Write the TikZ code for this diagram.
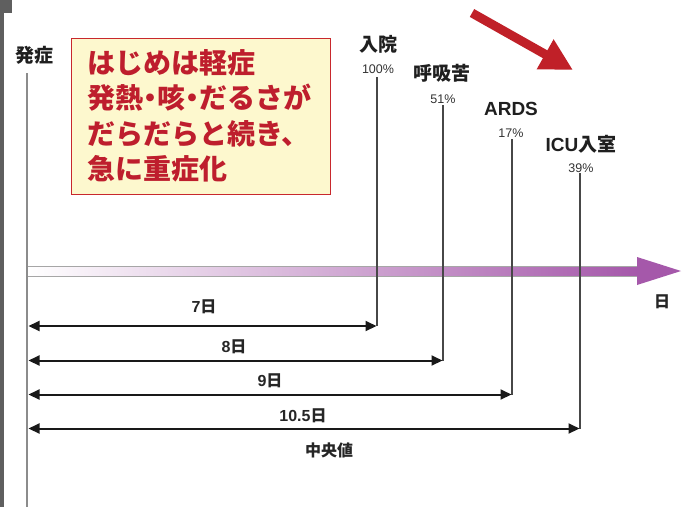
\documentclass[tikz,border=0pt]{standalone}
\usepackage{fontspec}
\setmainfont{Noto Sans CJK JP}
\newfontfamily\lat{Liberation Sans}
\usetikzlibrary{arrows.meta}
\definecolor{stripgray}{RGB}{95,95,95}
\definecolor{boxfill}{RGB}{253,248,206}
\definecolor{boxred}{RGB}{200,40,45}
\definecolor{textred}{RGB}{190,30,45}
\definecolor{arrowred}{RGB}{192,32,40}
\definecolor{tlpurple}{RGB}{165,88,170}
\begin{document}
\begin{tikzpicture}[x=1pt,y=-1pt,
  every node/.style={inner sep=0pt, outer sep=0pt},
  ttl/.style={font=\fontsize{19}{19}\selectfont\bfseries, text=black!88},
  pct/.style={font=\lat\fontsize{12.5}{13}\selectfont, text=black!80},
  dlab/.style={font=\fontsize{16}{17}\selectfont\bfseries, text=black!85},
  msgline/.style={anchor=base west, font=\fontsize{28}{28}\selectfont\bfseries, text=textred},
  vline/.style={draw=black!72, line width=1.3},
  onsetline/.style={draw=black!45, line width=1.7},
  dimarrow/.style={line width=2, draw=black!90,
    {Triangle[length=11pt,width=10pt]}-{Triangle[length=11pt,width=10pt]}},
]
\useasboundingbox (0,0) rectangle (693,507);
\fill[white] (0,0) rectangle (693,507);
% left gray strip
\fill[stripgray] (0,0) rectangle (4,507);
\fill[stripgray] (0,0) rectangle (12,13);

% time axis
\shade[left color=white, right color=tlpurple] (27,266) rectangle (637.5,276);
\draw[black!35, line width=0.6] (27,266) -- (637.5,266);
\draw[black!35, line width=0.6] (27,276) -- (637.5,276);
\fill[tlpurple] (637,257) -- (681,271) -- (637,285) -- cycle;
\node[dlab] (axday) at (662,302) {日};

% onset line
\node[ttl] (onset) at (34,55) {発症};
\coordinate (otop) at (27.3,73);
\coordinate (obot) at (27.3,507);
\draw[onsetline] (otop) -- (obot);

% message box
\node[draw=boxred, fill=boxfill, line width=0.9, minimum width=259, minimum height=156, anchor=north west] (box) at (71,38) {};
\node[msgline] (m1) at (87,73) {はじめは軽症};
\node[msgline] (m2) at (87,108.5) {発熱\makebox[0.5em][c]{・}咳\makebox[0.5em][c]{・}だるさが};
\node[msgline] (m3) at (87,144.5) {だらだらと続き、};
\node[msgline] (m4) at (87,179.5) {急に重症化};

% red arrow
\coordinate (ra1) at (472,13);
\coordinate (ra2) at (573,70);
\draw[arrowred, line width=9, -{Triangle[length=32pt,width=32pt]}] (ra1) -- (ra2);

% event labels
\node[ttl] (e1) at (378,44) {入院};
\node[pct] (p1) at (378,69.5) {100\%};
\node[ttl] (e2) at (442,73.5) {呼吸苦};
\node[pct] (p2) at (443,99) {51\%};
\node[ttl] (e3) at (511,109) {{\lat ARDS}};
\node[pct] (p3) at (511,133) {17\%};
\node[ttl] (e4) at (581,144.5) {{\lat ICU}入室};
\node[pct] (p4) at (581,168) {39\%};

% event lines
\coordinate (v1t) at (377,77);  \coordinate (v1b) at (377,326);
\coordinate (v2t) at (443,105); \coordinate (v2b) at (443,360.5);
\coordinate (v3t) at (512,139); \coordinate (v3b) at (512,394.5);
\coordinate (v4t) at (580,173); \coordinate (v4b) at (580,428.5);
\draw[vline] (v1t) -- (v1b);
\draw[vline] (v2t) -- (v2b);
\draw[vline] (v3t) -- (v3b);
\draw[vline] (v4t) -- (v4b);

% duration arrows
\coordinate (d1) at (28.5,326);
\coordinate (d2) at (28.5,360.5);
\coordinate (d3) at (28.5,394.5);
\coordinate (d4) at (28.5,428.5);
\draw[dimarrow] (d1) -- (376.5,326) coordinate (d1r);
\draw[dimarrow] (d2) -- (442.5,360.5) coordinate (d2r);
\draw[dimarrow] (d3) -- (511.5,394.5) coordinate (d3r);
\draw[dimarrow] (d4) -- (579.5,428.5) coordinate (d4r);

\node[dlab] (l1) at (204,307) {{\lat 7}日};
\node[dlab] (l2) at (234,347) {{\lat 8}日};
\node[dlab] (l3) at (270,381) {{\lat 9}日};
\node[dlab] (l4) at (303,416) {{\lat 10.5}日};
\node[dlab] (l5) at (329,450) {中央値};
\end{tikzpicture}
\end{document}
